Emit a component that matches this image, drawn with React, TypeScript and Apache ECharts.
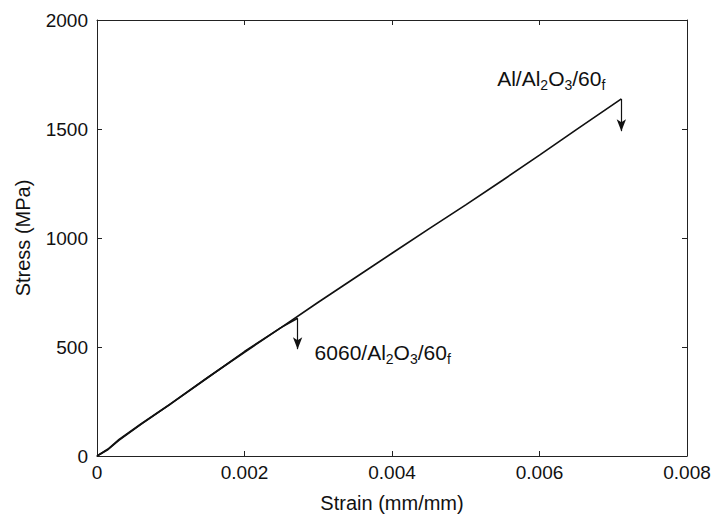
import React, { useEffect, useRef } from "react";
import * as echarts from "echarts";

const xTicks = [0, 0.002, 0.004, 0.006, 0.008];
const yTicks = [0, 500, 1000, 1500, 2000];

const alCurve: [number, number][] = [
  [0, 0], [0.00015, 32], [0.0003, 76], [0.0006, 148], [0.001, 240], [0.0015, 360],
  [0.002, 476], [0.0025, 590], [0.003, 705], [0.0035, 818], [0.004, 930],
  [0.0045, 1042], [0.005, 1152], [0.0055, 1265], [0.006, 1380], [0.0065, 1497],
  [0.00711, 1638],
];
const alFailure = { strain: 0.00711, stress: 1638, arrowTo: 1490 };

const c6060Curve: [number, number][] = [
  [0, 0], [0.00015, 30], [0.0003, 73], [0.0006, 146], [0.001, 239], [0.0015, 359],
  [0.002, 479], [0.0025, 590], [0.00272, 632],
];
const c6060Failure = { strain: 0.00272, stress: 632, arrowTo: 490 };

const FONT = "'Liberation Sans', Arial, Helvetica, sans-serif";

const rich = {
  a: { fontSize: 21, lineHeight: 27, color: "#111", fontFamily: FONT },
  s: { fontSize: 14, lineHeight: 16, color: "#111", fontFamily: FONT, verticalAlign: "bottom" },
};

export default function App() {
  const ref = useRef<HTMLDivElement>(null);
  useEffect(() => {
    if (!ref.current) return;
    const chart = echarts.init(ref.current, undefined, { renderer: "svg" });
    const axisLine = { show: true, onZero: false, lineStyle: { color: "#222", width: 1 } };
    const axisTick = { show: true, inside: true, length: 5, lineStyle: { color: "#222", width: 1 } };
    const labelStyle = { color: "#111", fontSize: 19, fontFamily: FONT };
    const arrowLine = (f: { strain: number; stress: number; arrowTo: number }) => ({
      silent: true,
      symbol: ["none", "arrow"],
      symbolSize: [7, 12],
      label: { show: false },
      lineStyle: { color: "#111", width: 1.2, type: "solid" },
      data: [[{ coord: [f.strain, f.stress] }, { coord: [f.strain, f.arrowTo] }]],
    });
    chart.setOption({
      animation: false,
      backgroundColor: "#fff",
      grid: { left: 97, right: 28, top: 20, bottom: 58, containLabel: false },
      xAxis: [
        {
          type: "value", min: 0, max: 0.008, interval: 0.002, position: "bottom",
          axisLine, axisTick, splitLine: { show: false },
          axisLabel: { ...labelStyle, margin: 7, formatter: (v: number) => (v === 0 ? "0" : v.toFixed(3)) },
          name: "Strain (mm/mm)", nameLocation: "middle", nameGap: 37,
          nameTextStyle: { color: "#111", fontSize: 20, fontFamily: FONT },
        },
        {
          type: "value", min: 0, max: 0.008, interval: 0.002, position: "top",
          axisLine, axisTick, splitLine: { show: false }, axisLabel: { show: false },
        },
      ],
      yAxis: [
        {
          type: "value", min: 0, max: 2000, interval: 500, position: "left",
          axisLine, axisTick, splitLine: { show: false },
          axisLabel: { ...labelStyle, margin: 9, formatter: (v: number) => String(v) },
          name: "Stress (MPa)", nameLocation: "middle", nameGap: 64,
          nameTextStyle: { color: "#111", fontSize: 20, fontFamily: FONT },
        },
        {
          type: "value", min: 0, max: 2000, interval: 500, position: "right",
          axisLine, axisTick, splitLine: { show: false }, axisLabel: { show: false },
        },
      ],
      series: [
        {
          name: "Al/Al2O3/60f", type: "line", data: alCurve, showSymbol: false, symbol: "none",
          lineStyle: { color: "#111", width: 1.7 }, z: 3,
          markLine: arrowLine(alFailure),
          markPoint: {
            silent: true, symbol: "circle", symbolSize: 0,
            data: [{
              coord: [alFailure.strain, alFailure.stress],
              label: {
                show: true, position: [-16, -20], align: "right", verticalAlign: "middle",
                formatter: "{a|Al/Al}{s|2}{a|O}{s|3}{a|/60}{s|f}", rich,
              },
            }],
          },
        },
        {
          name: "6060/Al2O3/60f", type: "line", data: c6060Curve, showSymbol: false, symbol: "none",
          lineStyle: { color: "#111", width: 1.7 }, z: 3,
          markLine: arrowLine(c6060Failure),
          markPoint: {
            silent: true, symbol: "circle", symbolSize: 0,
            data: [{
              coord: [c6060Failure.strain, c6060Failure.stress],
              label: {
                show: true, position: [17, 34], align: "left", verticalAlign: "middle",
                formatter: "{a|6060/Al}{s|2}{a|O}{s|3}{a|/60}{s|f}", rich,
              },
            }],
          },
        },
      ],
    });
    return () => chart.dispose();
  }, []);
  return <div ref={ref} style={{ width: 715, height: 518, position: "absolute", left: 0, top: 0 }} />;
}
